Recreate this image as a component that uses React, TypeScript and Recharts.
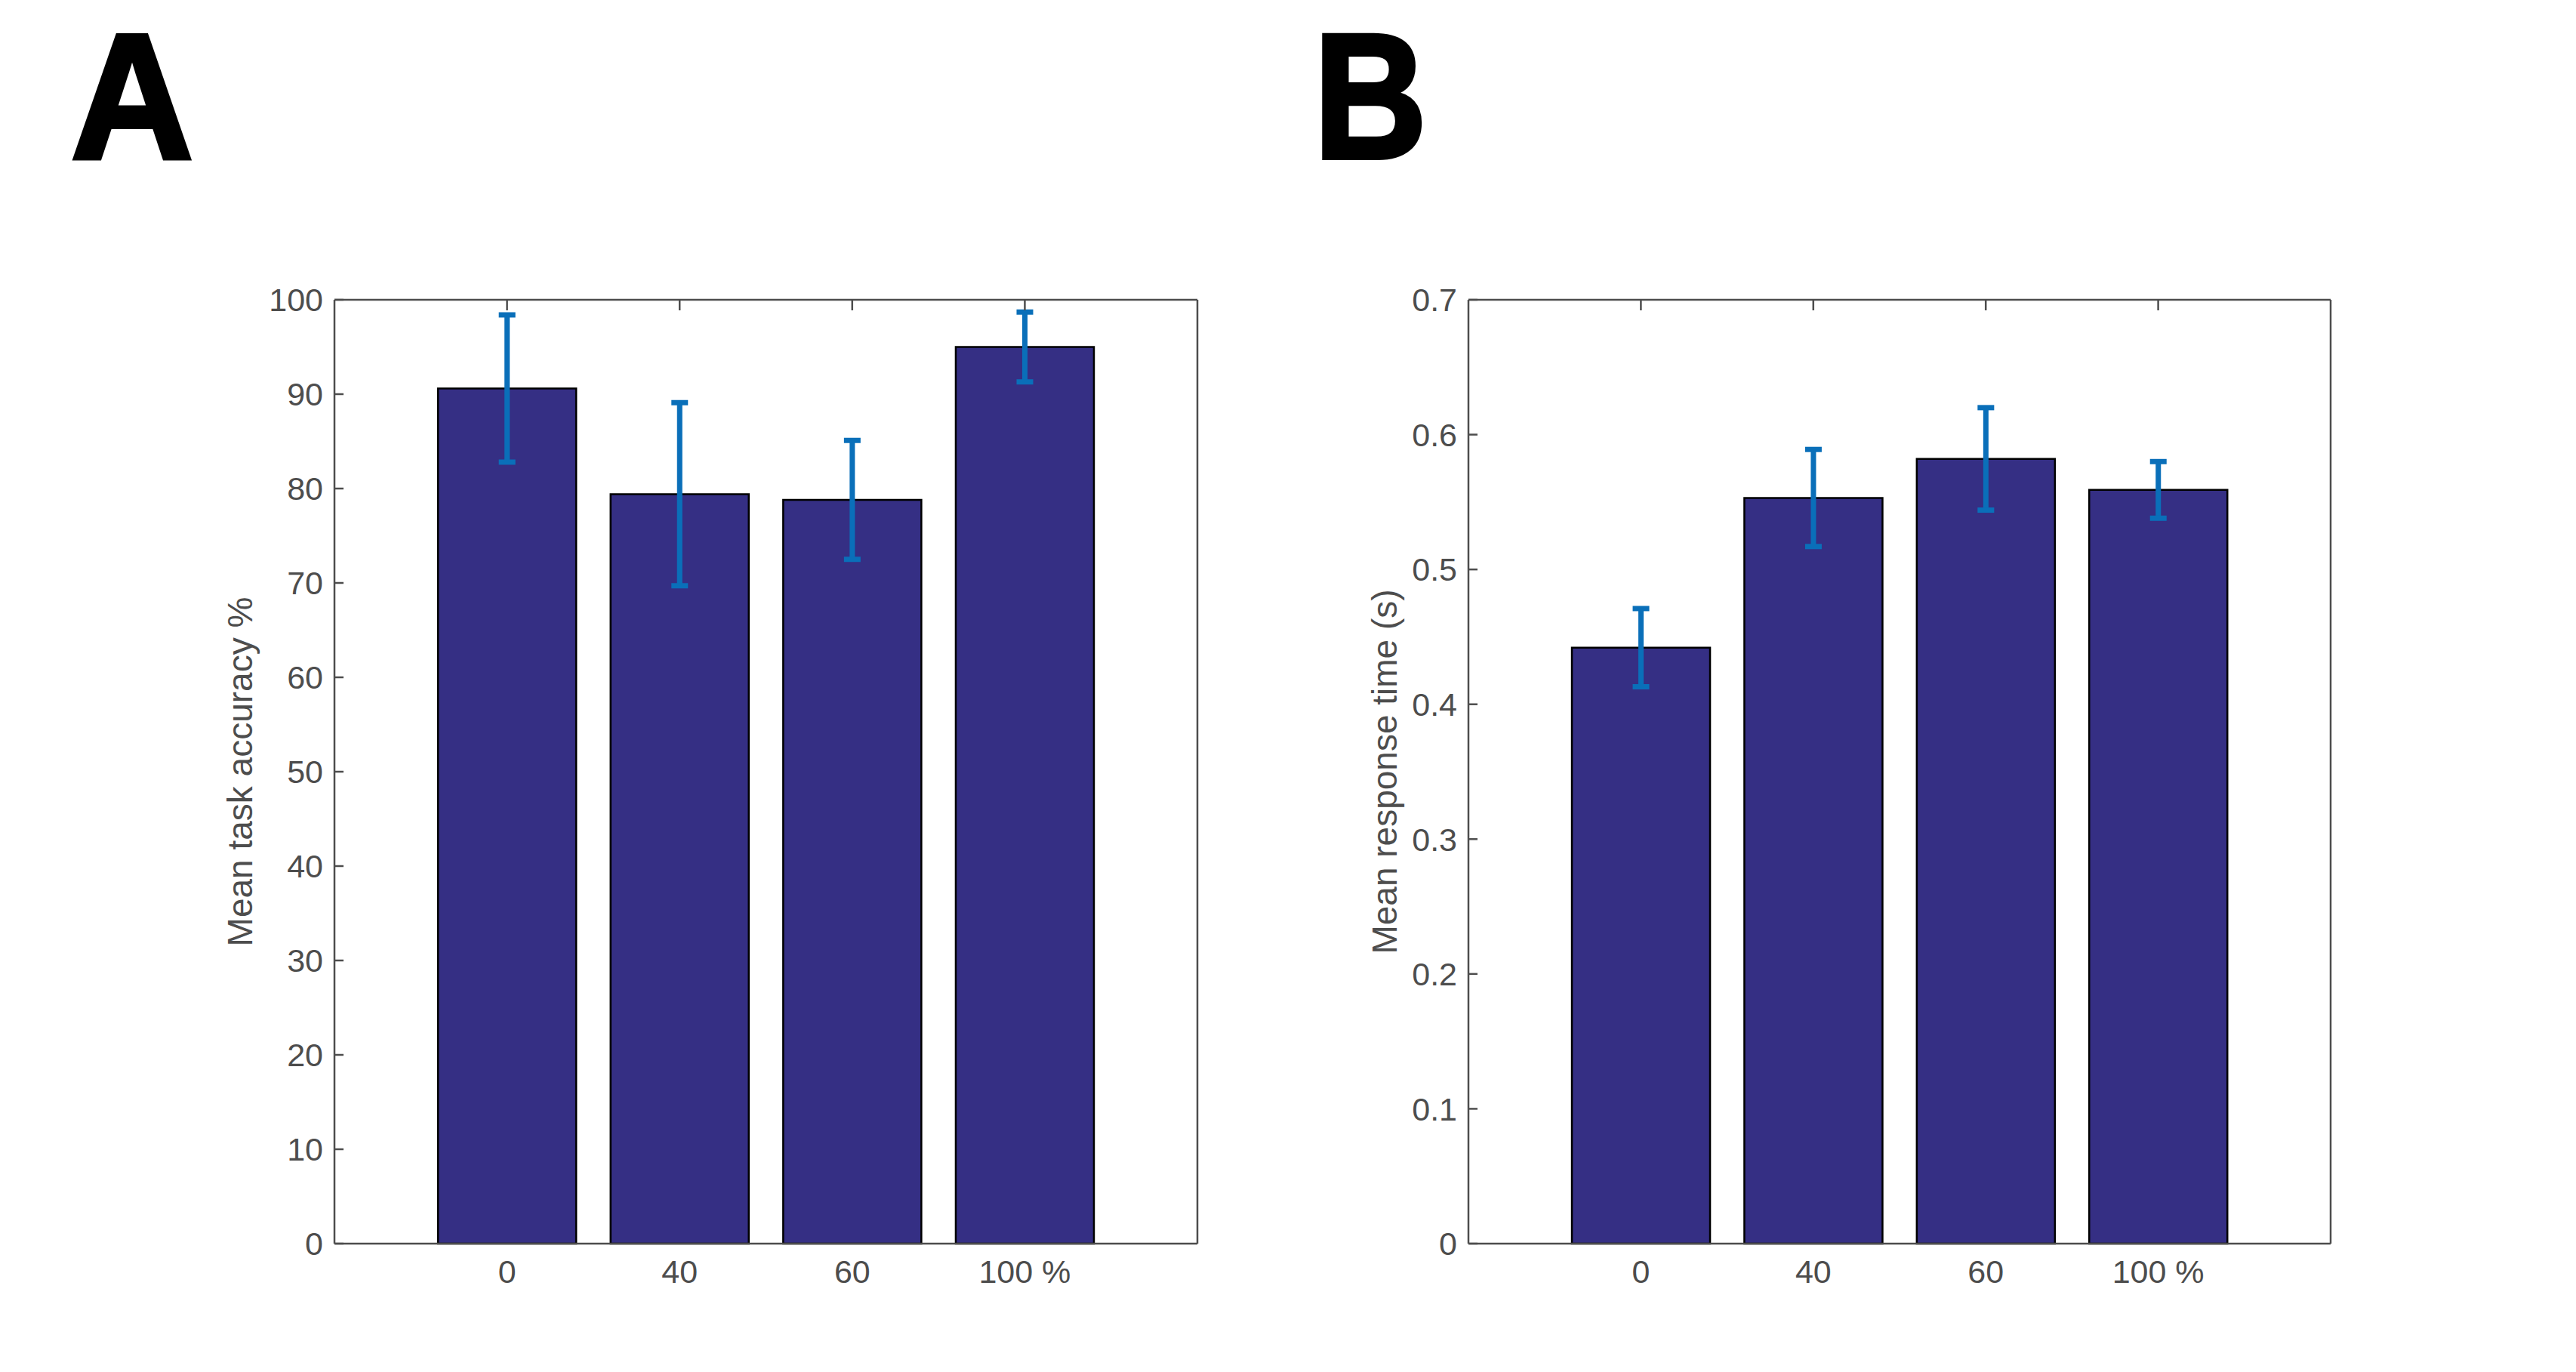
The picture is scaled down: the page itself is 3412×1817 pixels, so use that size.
import React from 'react'
import { BarChart, Bar, XAxis, YAxis, ErrorBar, Label } from 'recharts'

// condition labels (x axis)
const conditions = ['0', '40', '60', '100 %']

// panel A: task accuracy (%)
const accuracyMean = [90.6, 79.4, 78.8, 95.0]
const accuracyErr = [7.8, 9.7, 6.3, 3.7]
const accuracyTicks = [0, 10, 20, 30, 40, 50, 60, 70, 80, 90, 100]

// panel B: response time (s)
const rtMean = [0.442, 0.553, 0.582, 0.559]
const rtErr = [0.029, 0.036, 0.038, 0.021]
const rtTicks = [0, 0.1, 0.2, 0.3, 0.4, 0.5, 0.6, 0.7]

const BAR_FILL = '#352f84'
const ERR_COLOR = '#0a6fb9'
const AXIS_COLOR = '#4d4d4d'
const FONT = '"Liberation Sans", Arial, Helvetica, sans-serif'

const PANEL_W = 1706
const PANEL_H = 1817
const PLOT_TOP = 397
const PLOT_BOTTOM = 1647

interface PanelProps {
  means: number[]
  errs: number[]
  ticks: number[]
  domain: [number, number]
  yLabel: string
  plotLeft: number
  plotRight: number
  labelX: number
  fmt: (v: number) => string
}

function Panel({ means, errs, ticks, domain, yLabel, plotLeft, plotRight, labelX, fmt }: PanelProps) {
  const data = conditions.map((c, i) => ({ cond: c, mean: means[i], err: errs[i] }))
  const plotW = plotRight - plotLeft
  const pad = plotW / 10
  const axisStroke = { stroke: AXIS_COLOR, strokeWidth: 2.5 }

  return (
    <BarChart
      width={PANEL_W}
      height={PANEL_H}
      data={data}
      barCategoryGap="10%"
      margin={{ top: PLOT_TOP - 10, bottom: PANEL_H - PLOT_BOTTOM - 100, left: 0, right: PANEL_W - plotRight - 10 }}
    >
      <XAxis
        xAxisId="bottom"
        dataKey="cond"
        orientation="bottom"
        height={100}
        interval={0}
        padding={{ left: pad, right: pad }}
        axisLine={axisStroke}
        tickLine={false}
        tickSize={0}
        tickMargin={21}
        tick={{ fontSize: 43, fill: AXIS_COLOR, fontFamily: FONT }}
      />
      <XAxis
        xAxisId="top"
        dataKey="cond"
        orientation="top"
        height={10}
        interval={0}
        padding={{ left: pad, right: pad }}
        axisLine={axisStroke}
        tickLine={{ stroke: AXIS_COLOR, strokeWidth: 2.5 }}
        tickSize={-14}
        tickFormatter={() => ''}
      />
      <YAxis
        yAxisId="left"
        width={plotLeft}
        domain={domain}
        ticks={ticks}
        type="number"
        interval={0}
        axisLine={axisStroke}
        tickLine={{ stroke: AXIS_COLOR, strokeWidth: 2.5 }}
        tickSize={-12}
        tickMargin={27}
        tickFormatter={fmt}
        tick={{ fontSize: 43, fill: AXIS_COLOR, fontFamily: FONT }}
      >
        <Label
          value={yLabel}
          angle={-90}
          position="insideLeft"
          offset={labelX}
          style={{ textAnchor: 'middle', fontSize: 46, fill: AXIS_COLOR, fontFamily: FONT }}
        />
      </YAxis>
      <YAxis
        yAxisId="right"
        orientation="right"
        width={10}
        domain={domain}
        ticks={ticks}
        type="number"
        interval={0}
        axisLine={axisStroke}
        tickLine={{ stroke: AXIS_COLOR, strokeWidth: 2.5 }}
        tickSize={-12}
        tickFormatter={() => ''}
      />
      <Bar
        dataKey="mean"
        xAxisId="bottom"
        yAxisId="left"
        fill={BAR_FILL}
        stroke="#000"
        strokeWidth={2.5}
        isAnimationActive={false}
      >
        <ErrorBar
          dataKey="err"
          direction="y"
          width={11}
          stroke={ERR_COLOR}
          strokeWidth={7}
          isAnimationActive={false}
        />
      </Bar>
    </BarChart>
  )
}

export default function App() {
  const letterStyle: React.CSSProperties = {
    position: 'absolute',
    top: 27,
    fontSize: 236,
    lineHeight: '200px',
    fontWeight: 900,
    fontFamily: '"Liberation Sans", Arial, sans-serif',
    color: '#000',
    WebkitTextStroke: '6px #000',
    transformOrigin: 'left center',
  }
  return (
    <div style={{ position: 'absolute', left: 0, top: 0, width: 3412, height: 1817, background: '#fff', fontFamily: FONT }}>
      {/* panel letters */}
      <div style={{ ...letterStyle, left: 94, transform: 'scaleX(0.95)' }}>A</div>
      <div style={{ ...letterStyle, left: 1740, transform: 'scaleX(0.88)' }}>B</div>
      <div style={{ position: 'absolute', left: 0, top: 0 }}>
        <Panel
          means={accuracyMean}
          errs={accuracyErr}
          ticks={accuracyTicks}
          domain={[0, 100]}
          yLabel="Mean task accuracy %"
          plotLeft={443}
          plotRight={1586}
          labelX={318}
          fmt={(v) => String(v)}
        />
      </div>
      <div style={{ position: 'absolute', left: 1706, top: 0 }}>
        <Panel
          means={rtMean}
          errs={rtErr}
          ticks={rtTicks}
          domain={[0, 0.7]}
          yLabel="Mean response time (s)"
          plotLeft={239}
          plotRight={1381}
          labelX={128}
          fmt={(v) => (v === 0 ? '0' : v.toFixed(1))}
        />
      </div>
    </div>
  )
}
